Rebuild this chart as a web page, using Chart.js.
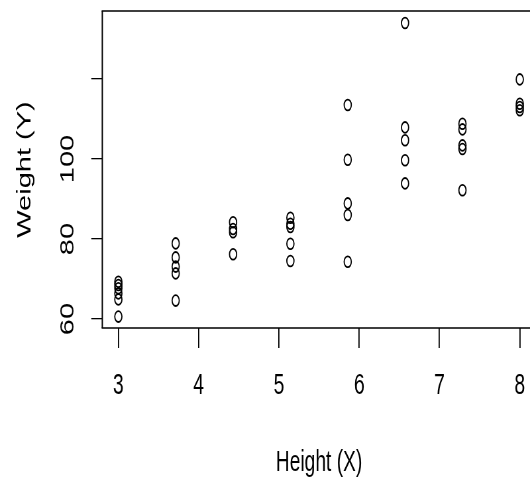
<!DOCTYPE html>
<html>
<head>
<meta charset="utf-8">
<script src="https://cdn.jsdelivr.net/npm/chart.js@4.4.1/dist/chart.umd.min.js"></script>
<style>
html, body { margin:0; padding:0; overflow:hidden; background:#ffffff; width:530px; height:486px; }
#wrap { width:830px; height:486px; transform:scaleX(0.6625); transform-origin:0 0; }
</style>
</head>
<body>
<div id="wrap"><canvas id="c" width="830" height="486"></canvas></div>
<script>
// Data
const heightX = [
  3, 3, 3, 3, 3, 3,
  3.714, 3.714, 3.714, 3.714, 3.714,
  4.429, 4.429, 4.429, 4.429,
  5.143, 5.143, 5.143, 5.143, 5.143,
  5.857, 5.857, 5.857, 5.857, 5.857,
  6.571, 6.571, 6.571, 6.571, 6.571,
  7.286, 7.286, 7.286, 7.286, 7.286,
  8, 8, 8, 8
];
const weightY = [
  60.6, 64.9, 66.4, 67.7, 68.5, 69.3,
  78.9, 75.4, 73.1, 71.4, 64.6,
  84.2, 82.5, 81.7, 76.2,
  85.3, 83.8, 83.0, 78.8, 74.5,
  113.5, 99.8, 88.9, 86.0, 74.3,
  134.0, 107.9, 104.7, 99.7, 93.9,
  108.8, 107.4, 103.4, 102.5, 92.2,
  119.9, 113.8, 113.0, 112.2
];
const xTickValues = [3, 4, 5, 6, 7, 8];
const xTickLabels = ['3', '4', '5', '6', '7', '8'];
const yTickValues = [60, 80, 100, 120];
const yTickLabels = ['60', '80', '100', ''];
const xTitle = 'Height (X)';
const yTitle = 'Weight (Y)';

const FONT = '"Liberation Sans", Arial, Helvetica, sans-serif';

const points = heightX.map((x, i) => ({ x: x, y: weightY[i] }));

const boxPlugin = {
  id: 'box',
  afterDraw(chart) {
    const { ctx, chartArea: a } = chart;
    ctx.save();
    ctx.strokeStyle = '#000';
    ctx.lineWidth = 1.4;
    ctx.beginPath();
    ctx.moveTo(a.left - 1, a.top); ctx.lineTo(a.right + 1, a.top);
    ctx.moveTo(a.left - 1, a.bottom); ctx.lineTo(a.right + 1, a.bottom);
    ctx.stroke();
    ctx.lineWidth = 2;
    ctx.beginPath();
    ctx.moveTo(a.left, a.top); ctx.lineTo(a.left, a.bottom);
    ctx.moveTo(a.right, a.top); ctx.lineTo(a.right, a.bottom);
    ctx.stroke();
    ctx.restore();
  }
};

new Chart(document.getElementById('c'), {
  type: 'scatter',
  data: {
    datasets: [{
      data: points,
      pointStyle: 'circle',
      pointRadius: 5.4,
      pointHoverRadius: 5.4,
      pointBorderWidth: 1.8,
      borderColor: '#000',
      backgroundColor: 'rgba(0,0,0,0)',
      pointBackgroundColor: 'rgba(0,0,0,0)',
      pointBorderColor: '#000'
    }]
  },
  options: {
    responsive: false,
    devicePixelRatio: 1,
    animation: false,
    layout: { padding: { top: 11, right: 21.2, left: 0, bottom: 0 } },
    plugins: { legend: { display: false }, tooltip: { enabled: false } },
    scales: {
      x: {
        type: 'linear',
        position: 'bottom',
        min: 2.8,
        max: 8.2,
        afterBuildTicks: (s) => { s.ticks = xTickValues.map(v => ({ value: v })); },
        afterFit: (s) => { s.height = 158; s.paddingLeft = 0; s.paddingRight = 0; },
        border: { display: false },
        grid: { display: true, drawOnChartArea: false, drawTicks: true, tickLength: 20, color: '#000', lineWidth: 1.8 },
        ticks: {
          color: '#000',
          font: { family: FONT, size: 29 },
          padding: 20.6,
          maxRotation: 0,
          autoSkip: false,
          callback: (v) => { const i = xTickValues.indexOf(v); return i >= 0 ? xTickLabels[i] : ''; }
        },
        title: { display: true, text: xTitle, color: '#000', font: { family: FONT, size: 29 }, padding: { top: 0, bottom: 5.6 } }
      },
      y: {
        type: 'linear',
        position: 'left',
        min: 57.75,
        max: 137,
        afterBuildTicks: (s) => { s.ticks = yTickValues.map(v => ({ value: v })); },
        afterFit: (s) => { s.width = 154.4; s.paddingTop = 0; s.paddingBottom = 0; },
        border: { display: false },
        grid: { display: true, drawOnChartArea: false, drawTicks: true, tickLength: 16.7, color: '#000', lineWidth: 1.3 },
        ticks: {
          color: '#000',
          font: { family: FONT, size: 29 },
          padding: 10.5,
          minRotation: 90,
          maxRotation: 90,
          crossAlign: 'center',
          autoSkip: false,
          callback: (v) => { const i = yTickValues.indexOf(v); return i >= 0 ? yTickLabels[i] : ''; }
        },
        title: { display: true, text: yTitle, color: '#000', font: { family: FONT, size: 29 }, padding: { top: 20.3, bottom: 0 } }
      }
    }
  },
  plugins: [boxPlugin]
});
</script>
</body>
</html>
